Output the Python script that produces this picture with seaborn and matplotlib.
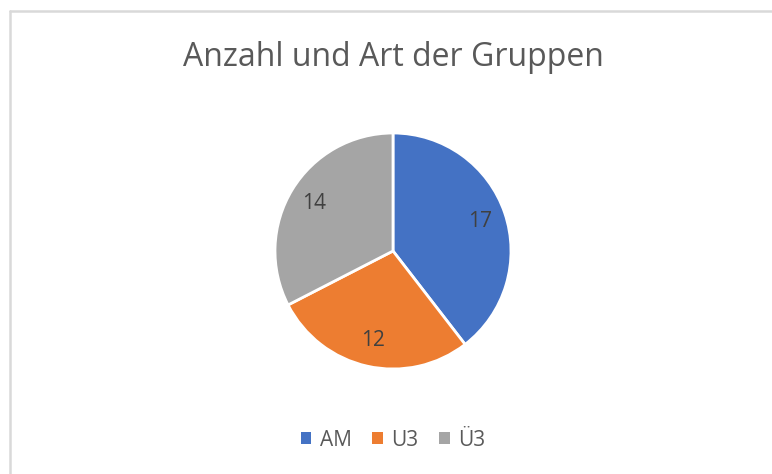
import matplotlib
matplotlib.use("Agg")
import matplotlib.pyplot as plt
from matplotlib.patches import Patch
from matplotlib.lines import Line2D
import seaborn as sns

# data
categories = ["AM", "U3", "Ü3"]
counts = [17, 12, 14]
colors = ["#4472C4", "#ED7D31", "#A5A5A5"]
title = "Anzahl und Art der Gruppen"

sns.set_theme(style="white")
plt.rcParams['font.family'] = ['Open Sans', 'DejaVu Sans']

W, H = 772, 474
fig = plt.figure(figsize=(W / 100, H / 100), dpi=100)

# pie axes: center (393, 251) px, radius 118 px
cx, cy, r = 393, 251, 118
ax = fig.add_axes([(cx - r) / W, (H - cy - r) / H, 2 * r / W, 2 * r / H])

total = sum(counts)
wedges, texts, autotexts = ax.pie(
    counts, colors=colors, startangle=90, counterclock=False,
    radius=1, pctdistance=0.78,
    autopct=lambda p: f"{round(p * total / 100):d}",
    wedgeprops=dict(edgecolor="white", linewidth=2),
    textprops=dict(color="#404040", fontsize=15),
)
ax.set_xlim(-1, 1)
ax.set_ylim(-1, 1)
ax.axis("off")

fig.text(cx / W, 1 - 57 / H, title, ha="center", va="center",
         fontsize=23, color="#595959")

handles = [Patch(facecolor=c, edgecolor="none") for c in colors]
fig.legend(handles, categories, loc="center", bbox_to_anchor=(cx / W, 1 - 440 / H),
           ncol=3, frameon=False, fontsize=15, handlelength=0.5, handleheight=0.5,
           handletextpad=0.4, columnspacing=1.0, labelcolor="#595959")

# chart border (only top and left edges visible in the crop)
bx, by = 9.5 / W, 1 - 11 / H
fig.add_artist(Line2D([bx, 1], [by, by], transform=fig.transFigure,
                      color="#D9D9D9", linewidth=1.8))
fig.add_artist(Line2D([bx, bx], [0, by], transform=fig.transFigure,
                      color="#D9D9D9", linewidth=1.8))

fig.savefig("out.png", dpi=100, facecolor="white")
